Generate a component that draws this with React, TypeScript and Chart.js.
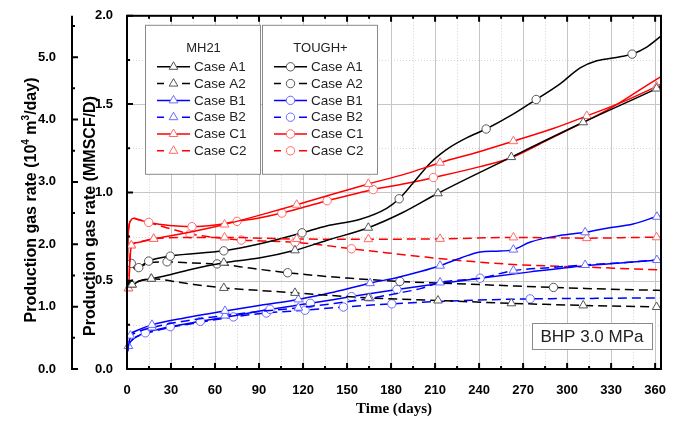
import React, { useEffect, useRef } from "react";
import { Chart, registerables } from "chart.js";

Chart.register(...registerables);

type Pt = [number, number];

// Axis ranges
const X_MAX = 364; // days
const RATE_MAX = 2.0; // MMSCF/D
const M3_PER_MMSCF = 2.8316846592; // 1 MMSCF/D = 2.83 x10^4 m3/day
const DAY_STEP = 30;
const RATE_STEP = 0.5;

// ---- MH21 results: [day, MMSCF/D] ----
const mh21A1: Pt[] = [
  [0, 0.47], [1.5, 0.49], [3.5, 0.478], [8, 0.497], [16.6, 0.511], [30, 0.535], [42, 0.561],
  [66, 0.602], [90, 0.628], [114.5, 0.672], [136, 0.728], [164.5, 0.8], [188, 0.886],
  [212, 0.995], [262, 1.2], [311, 1.397], [361, 1.588], [364, 1.6],
];
const mh21A1Marks = [3.5, 16.6, 66, 114.5, 164.5, 212, 262, 311, 361];

const mh21A2: Pt[] = [
  [0, 0.47], [1.5, 0.49], [3.5, 0.478], [8, 0.497], [16.6, 0.511], [40, 0.485], [66, 0.459],
  [90, 0.445], [114.5, 0.431], [164.5, 0.403], [212, 0.388], [262, 0.372], [311, 0.36],
  [361, 0.351], [364, 0.35],
];
const mh21A2Marks = [3.5, 16.6, 66, 114.5, 164.5, 212, 262, 311, 361];

const mh21B1: Pt[] = [
  [0, 0.09], [1, 0.13], [2.3, 0.189], [6, 0.215], [17, 0.25], [40, 0.29], [66.8, 0.329],
  [90, 0.36], [116.8, 0.394], [138, 0.43], [165.7, 0.486], [185, 0.52], [200, 0.552],
  [213.4, 0.585], [228, 0.63], [240.7, 0.663], [252, 0.667], [263.4, 0.676], [275, 0.719],
  [295, 0.756], [312.3, 0.774], [327, 0.797], [345, 0.821], [361.2, 0.862], [364, 0.866],
];
const mh21B1Marks = [2.3, 17, 66.8, 116.8, 165.7, 213.4, 263.4, 312.3, 361.2];

const mh21B2: Pt[] = [
  [0, 0.09], [1, 0.13], [2.3, 0.18], [6, 0.205], [17, 0.235], [40, 0.272], [66.8, 0.303],
  [90, 0.325], [116.8, 0.347], [140, 0.37], [165.7, 0.4], [185, 0.43], [200, 0.455],
  [213.4, 0.49], [240.7, 0.514], [263.4, 0.557], [290, 0.575], [312.3, 0.589], [340, 0.603],
  [361.2, 0.617], [364, 0.619],
];
const mh21B2Marks = [1, 17, 66.8, 116.8, 165.7, 213.4, 263.4, 312.3, 361.2];

const mh21C1: Pt[] = [
  [0, 0.45], [1, 0.457], [2, 0.62], [3, 0.7], [6, 0.715], [18.2, 0.737], [40, 0.77],
  [66.5, 0.818], [90, 0.87], [115.7, 0.93], [140, 0.99], [164.5, 1.048], [190, 1.105],
  [213.4, 1.168], [240, 1.23], [263.4, 1.29], [290, 1.36], [313.4, 1.433], [340, 1.52],
  [361, 1.6], [364, 1.612],
];
const mh21C1Marks = [1, 3, 18.2, 66.5, 115.7, 164.5, 213.4, 263.4, 313.4, 361];

const mh21C2: Pt[] = [
  [0, 0.45], [1, 0.457], [2, 0.62], [3, 0.7], [6, 0.715], [18.2, 0.737], [40, 0.745],
  [66.5, 0.745], [115.7, 0.736], [164.5, 0.735], [213.4, 0.737], [263.4, 0.745],
  [313.4, 0.741], [361, 0.746], [364, 0.746],
];
const mh21C2Marks = [1, 3, 18.2, 66.5, 115.7, 164.5, 213.4, 263.4, 313.4, 361];

// ---- TOUGH+ results: [day, MMSCF/D] ----
const toughA1: Pt[] = [
  [0, 0.607], [1, 0.607], [2.9, 0.598], [5.7, 0.565], [8, 0.574], [14.8, 0.611], [29.5, 0.639],
  [66, 0.669], [90.7, 0.709], [119.3, 0.771], [136, 0.81], [159, 0.848], [177, 0.91],
  [185.5, 0.964], [195, 1.053], [206.6, 1.165], [213.4, 1.215], [220, 1.255], [231.8, 1.31],
  [244.8, 1.359], [263.2, 1.443], [278.9, 1.526], [295.2, 1.615], [308.9, 1.705],
  [320.2, 1.745], [336.1, 1.768], [344.3, 1.783], [354.3, 1.823], [364, 1.885],
];
const toughA1Marks = [2.9, 8, 14.8, 29.5, 66, 119.3, 185.5, 244.8, 278.9, 344.3];

const toughA2: Pt[] = [
  [0, 0.607], [1, 0.607], [2.9, 0.598], [5.7, 0.565], [8, 0.574], [14.8, 0.6], [27.3, 0.607],
  [45, 0.6], [61.4, 0.595], [85, 0.57], [109.5, 0.545], [150, 0.515], [186, 0.496],
  [240, 0.478], [290.7, 0.462], [330, 0.452], [364, 0.445],
];
const toughA2Marks = [27.3, 61.4, 109.5, 186, 290.7];

const toughB1: Pt[] = [
  [0, 0.09], [1, 0.13], [3, 0.16], [6, 0.18], [12.5, 0.205], [29.5, 0.24], [50, 0.27],
  [72, 0.3], [97.5, 0.338], [125, 0.372], [153, 0.41], [184, 0.45], [213, 0.483],
  [240.7, 0.514], [275, 0.55], [312, 0.585], [340, 0.603], [364, 0.618],
];
const toughB1Marks = [12.5, 29.5, 50, 97.5, 125, 153, 184, 240.7];

const toughB2: Pt[] = [
  [0, 0.09], [1, 0.13], [3, 0.16], [6, 0.18], [12.5, 0.2], [29.5, 0.235], [50, 0.265],
  [72.5, 0.295], [95, 0.317], [121.4, 0.333], [147.5, 0.351], [180.5, 0.369], [200, 0.378],
  [230, 0.388], [274.8, 0.397], [320, 0.4], [364, 0.403],
];
const toughB2Marks = [72.5, 95, 121.4, 147.5, 180.5, 274.8];

const toughC1: Pt[] = [
  [0, 0.47], [0.5, 0.7], [1.2, 0.8], [2.5, 0.84], [4.5, 0.853], [8, 0.845], [14.8, 0.83],
  [29, 0.812], [44.3, 0.806], [60, 0.815], [75, 0.836], [90, 0.855], [105.6, 0.883],
  [120, 0.915], [136.4, 0.953], [152, 0.985], [167.8, 1.016], [190, 1.05], [208.8, 1.084],
  [240.7, 1.146], [262.3, 1.198], [286, 1.294], [313.4, 1.406], [334, 1.499],
  [349.8, 1.582], [364, 1.656],
];
const toughC1Marks = [14.8, 44.3, 75, 105.6, 136.4, 167.8, 208.8];

const toughC2: Pt[] = [
  [0, 0.47], [0.5, 0.7], [1.2, 0.8], [2.5, 0.84], [4.5, 0.853], [8, 0.845], [14.8, 0.83],
  [30, 0.793], [43, 0.765], [60, 0.745], [78, 0.73], [95, 0.725], [114.5, 0.717], [135, 0.7],
  [153, 0.681], [175, 0.66], [200, 0.637], [230, 0.612], [263.4, 0.592], [313, 0.577],
  [364, 0.561],
];
const toughC2Marks = [43, 78, 114.5, 153];

const caseLabels = ["Case A1", "Case A2", "Case B1", "Case B2", "Case C1", "Case C2"];
const modelNames = ["MH21", "TOUGH+"];

// Series styling
const LINE_COLORS = ["#000000", "#000000", "#0000ff", "#0000ff", "#ff0000", "#ff0000"];
const MARK_COLORS = ["#555555", "#555555", "#6a6aff", "#6a6aff", "#ff6a6a", "#ff6a6a"];
const DASHED = [false, true, false, true, false, true];
const DASH = [9, 5];
const TRI_R = 5;
const CIRC_R = 4.2;

const MODEL_DATA: Pt[][][] = [
  [mh21A1, mh21A2, mh21B1, mh21B2, mh21C1, mh21C2],
  [toughA1, toughA2, toughB1, toughB2, toughC1, toughC2],
];
const MODEL_MARKS: number[][][] = [
  [mh21A1Marks, mh21A2Marks, mh21B1Marks, mh21B2Marks, mh21C1Marks, mh21C2Marks],
  [toughA1Marks, toughA2Marks, toughB1Marks, toughB2Marks, toughC1Marks, toughC2Marks],
];
const MODEL_SHAPES = ["triangle", "circle"];

const SANS = "'Liberation Sans', Arial, Helvetica, sans-serif";
const SERIF = "'Liberation Serif', 'Times New Roman', serif";
const TITLE_SIZE = 16;

// Axis titles: runs of [text, isSuperscript]
const innerTitle: [string, boolean][] = [["Production gas rate (MMSCF/D)", false]];
const outerTitle: [string, boolean][] = [
  ["Production gas rate (10", false],
  ["4", true],
  [" m", false],
  ["3", true],
  ["/day)", false],
];

function drawMarker(ctx: CanvasRenderingContext2D, shape: string, x: number, y: number, stroke: string) {
  ctx.save();
  ctx.setLineDash([]);
  ctx.fillStyle = "#ffffff";
  ctx.strokeStyle = stroke;
  ctx.lineWidth = 1;
  ctx.beginPath();
  if (shape === "triangle") {
    ctx.moveTo(x, y - TRI_R);
    ctx.lineTo(x + TRI_R * 0.866, y + TRI_R * 0.5);
    ctx.lineTo(x - TRI_R * 0.866, y + TRI_R * 0.5);
    ctx.closePath();
  } else {
    ctx.arc(x, y, CIRC_R, 0, Math.PI * 2);
  }
  ctx.fill();
  ctx.stroke();
  ctx.restore();
}

function drawVerticalTitle(ctx: CanvasRenderingContext2D, runs: [string, boolean][], cx: number, cy: number) {
  const big = `bold ${TITLE_SIZE}px ${SANS}`;
  const small = `bold ${Math.round(TITLE_SIZE * 0.6)}px ${SANS}`;
  let total = 0;
  for (const [t, sup] of runs) {
    ctx.font = sup ? small : big;
    total += ctx.measureText(t).width;
  }
  ctx.save();
  ctx.translate(cx, cy);
  ctx.rotate(-Math.PI / 2);
  ctx.fillStyle = "#000";
  ctx.textAlign = "left";
  ctx.textBaseline = "middle";
  let x = -total / 2;
  for (const [t, sup] of runs) {
    ctx.font = sup ? small : big;
    ctx.fillText(t, x, sup ? -TITLE_SIZE * 0.38 : 0);
    x += ctx.measureText(t).width;
  }
  ctx.restore();
}

const gridPlugin = {
  id: "gridAndFrame",
  beforeDatasetsDraw(chart: any) {
    const { ctx, chartArea: a, scales } = chart;
    const x = scales.x;
    const y = scales.y;
    ctx.save();
    ctx.lineWidth = 1;
    // minor dotted grid
    ctx.strokeStyle = "#d2d2d2";
    ctx.setLineDash([1, 2]);
    ctx.beginPath();
    for (let d = DAY_STEP / 2; d < X_MAX; d += DAY_STEP) {
      const px = Math.round(x.getPixelForValue(d)) + 0.5;
      ctx.moveTo(px, a.top);
      ctx.lineTo(px, a.bottom);
    }
    for (let v = RATE_STEP / 2; v < RATE_MAX; v += RATE_STEP) {
      const py = Math.round(y.getPixelForValue(v)) + 0.5;
      ctx.moveTo(a.left, py);
      ctx.lineTo(a.right, py);
    }
    ctx.stroke();
    // major solid grid
    ctx.setLineDash([]);
    ctx.strokeStyle = "#c6c6c6";
    ctx.beginPath();
    for (let d = DAY_STEP; d < X_MAX; d += DAY_STEP) {
      const px = Math.round(x.getPixelForValue(d)) + 0.5;
      ctx.moveTo(px, a.top);
      ctx.lineTo(px, a.bottom);
    }
    for (let v = RATE_STEP; v < RATE_MAX; v += RATE_STEP) {
      const py = Math.round(y.getPixelForValue(v)) + 0.5;
      ctx.moveTo(a.left, py);
      ctx.lineTo(a.right, py);
    }
    ctx.stroke();
    ctx.restore();
  },
  afterDatasetsDraw(chart: any) {
    const { ctx, chartArea: a, scales } = chart;
    const x = scales.x;
    const y = scales.y;
    const y2 = scales.y2;
    ctx.save();
    ctx.setLineDash([]);
    ctx.strokeStyle = "#000";
    ctx.lineWidth = 2;
    ctx.strokeRect(a.left, a.top, a.right - a.left, a.bottom - a.top);

    // inward ticks on bottom / top
    ctx.lineWidth = 2;
    ctx.beginPath();
    for (let d = 0; d < X_MAX; d += DAY_STEP / 2) {
      const px = x.getPixelForValue(d);
      const len = d % DAY_STEP === 0 ? 6 : 3;
      ctx.moveTo(px, a.bottom);
      ctx.lineTo(px, a.bottom - len);
      ctx.moveTo(px, a.top);
      ctx.lineTo(px, a.top + len);
    }
    // inward ticks on the left rate axis
    for (let i = 0; i <= 8; i++) {
      const v = (i * RATE_STEP) / 2;
      const py = y.getPixelForValue(v);
      const len = i % 2 === 0 ? 6 : 3;
      ctx.moveTo(a.left, py);
      ctx.lineTo(a.left + len, py);
    }
    ctx.stroke();

    // outer axis (10^4 m3/day)
    const ax = y2.right;
    ctx.beginPath();
    ctx.moveTo(ax, a.top);
    ctx.lineTo(ax, a.bottom + 1);
    for (let i = 0; i <= 11; i++) {
      const v = i * 0.5;
      const py = y2.getPixelForValue(v);
      const len = i % 2 === 0 ? 6 : 3;
      ctx.moveTo(ax, py);
      ctx.lineTo(ax + len, py);
    }
    ctx.stroke();

    // axis titles
    drawVerticalTitle(ctx, outerTitle, 32, 200);
    drawVerticalTitle(ctx, innerTitle, 91, 216);

    // legend: one box per model
    const boxW = 115;
    const boxH = 149;
    const boxTop = a.top + 9;
    for (let m = 0; m < 2; m++) {
      const bx = a.left + 18 + m * (boxW + 2);
      ctx.fillStyle = "#ffffff";
      ctx.fillRect(bx, boxTop, boxW, boxH);
      ctx.strokeStyle = "#8a8a8a";
      ctx.lineWidth = 1;
      ctx.strokeRect(bx + 0.5, boxTop + 0.5, boxW, boxH);
      ctx.fillStyle = "#222";
      ctx.font = `13px ${SANS}`;
      ctx.textAlign = "center";
      ctx.textBaseline = "middle";
      ctx.fillText(modelNames[m], bx + boxW / 2 + 1, boxTop + 24);
      for (let k = 0; k < caseLabels.length; k++) {
        const ry = boxTop + 42 + k * 16.8;
        const x0 = bx + 12;
        const x1 = bx + 45;
        const cx = (x0 + x1) / 2;
        ctx.strokeStyle = LINE_COLORS[k];
        ctx.lineWidth = 1.5;
        ctx.beginPath();
        if (DASHED[k]) {
          ctx.moveTo(x0, ry);
          ctx.lineTo(x0 + 7, ry);
          ctx.moveTo(x1 - 8, ry);
          ctx.lineTo(x1, ry);
        } else {
          ctx.moveTo(x0, ry);
          ctx.lineTo(x1, ry);
        }
        ctx.stroke();
        drawMarker(ctx, MODEL_SHAPES[m], cx, ry, MARK_COLORS[k]);
        ctx.fillStyle = "#222";
        ctx.font = `13.5px ${SANS}`;
        ctx.textAlign = "left";
        ctx.textBaseline = "middle";
        ctx.fillText(caseLabels[k], x1 + 4, ry + 0.5);
      }
    }

    // condition label
    const lw = 120;
    const lh = 26;
    const lx = a.right - 9 - lw;
    const ly = a.bottom - 20 - lh;
    ctx.fillStyle = "#ffffff";
    ctx.fillRect(lx, ly, lw, lh);
    ctx.strokeStyle = "#8a8a8a";
    ctx.lineWidth = 1;
    ctx.strokeRect(lx + 0.5, ly + 0.5, lw, lh);
    ctx.fillStyle = "#222";
    ctx.font = `17px ${SANS}`;
    ctx.textAlign = "center";
    ctx.textBaseline = "middle";
    ctx.fillText("BHP 3.0 MPa", lx + lw / 2, ly + lh / 2 + 1);
    ctx.restore();
  },
};

export default function App() {
  const ref = useRef<HTMLCanvasElement>(null);

  useEffect(() => {
    if (!ref.current) return;
    Chart.defaults.font.family = SANS;
    Chart.defaults.color = "#000";

    const datasets: any[] = [];
    for (let m = 0; m < 2; m++) {
      for (let k = 0; k < caseLabels.length; k++) {
        const pts = MODEL_DATA[m][k];
        const marks = MODEL_MARKS[m][k];
        const r = MODEL_SHAPES[m] === "triangle" ? TRI_R : CIRC_R;
        datasets.push({
          label: `${modelNames[m]} ${caseLabels[k]}`,
          data: pts.map(([d, v]) => ({ x: d, y: v })),
          xAxisID: "x",
          yAxisID: "y",
          borderColor: LINE_COLORS[k],
          borderWidth: 1.5,
          borderDash: DASHED[k] ? DASH : [],
          fill: false,
          cubicInterpolationMode: "monotone",
          pointStyle: MODEL_SHAPES[m],
          pointRadius: (c: any) => (marks.includes(pts[c.dataIndex][0]) ? r : 0),
          pointHoverRadius: 0,
          pointBackgroundColor: "#ffffff",
          pointBorderColor: MARK_COLORS[k],
          pointBorderWidth: 1,
          clip: false,
        });
      }
    }

    const tickFont = { size: 13, weight: "bold" as const, family: SANS };

    const chart = new Chart(ref.current, {
      type: "line",
      data: { datasets },
      options: {
        responsive: false,
        animation: false,
        events: [],
        layout: { padding: { top: 10, right: 18, bottom: 0, left: 0 } },
        plugins: { legend: { display: false }, tooltip: { enabled: false } },
        scales: {
          x: {
            type: "linear",
            position: "bottom",
            min: 0,
            max: X_MAX,
            grid: { display: false },
            border: { display: false },
            ticks: {
              stepSize: DAY_STEP,
              includeBounds: false,
              autoSkip: false,
              maxRotation: 0,
              padding: 6,
              color: "#000",
              font: tickFont,
            },
            title: {
              display: true,
              text: "Time (days)",
              color: "#000",
              font: { size: 15, weight: "bold", family: SERIF },
              padding: { top: 0, bottom: 3 },
            },
            afterFit: (s: any) => {
              s.height = 52;
            },
          },
          y: {
            type: "linear",
            position: "left",
            weight: 0,
            min: 0,
            max: RATE_MAX,
            grid: { display: false },
            border: { display: false },
            ticks: {
              stepSize: RATE_STEP,
              padding: 6,
              color: "#000",
              font: tickFont,
              callback: (v: any) => Number(v).toFixed(1),
            },
            title: { display: false },
            afterFit: (s: any) => {
              s.width = 55;
            },
          },
          y2: {
            type: "linear",
            position: "left",
            weight: 1,
            min: 0,
            max: RATE_MAX * M3_PER_MMSCF,
            grid: { display: false },
            border: { display: false },
            ticks: {
              stepSize: 1,
              includeBounds: false,
              padding: 8,
              color: "#000",
              font: tickFont,
              callback: (v: any) => Number(v).toFixed(1),
            },
            title: { display: false },
            afterFit: (s: any) => {
              s.width = 72;
            },
          },
        },
      } as any,
      plugins: [gridPlugin],
    });

    return () => chart.destroy();
  }, []);

  return (
    <div style={{ position: "absolute", left: 0, top: 0, width: 679, height: 421, background: "#fff" }}>
      <canvas ref={ref} width={679} height={421} style={{ display: "block" }} />
    </div>
  );
}
